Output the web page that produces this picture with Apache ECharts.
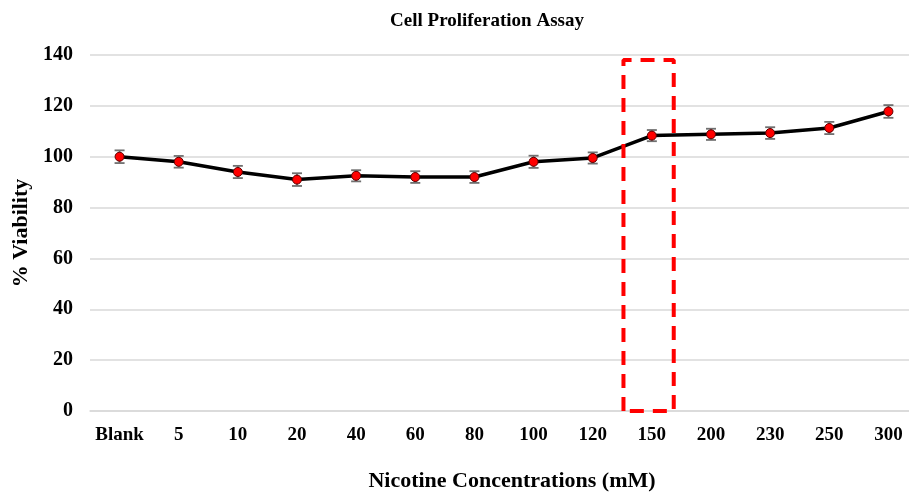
<!DOCTYPE html>
<html>
<head>
<meta charset="utf-8">
<script src="https://cdn.jsdelivr.net/npm/echarts@6/dist/echarts.min.js"></script>
<style>html,body{margin:0;padding:0;background:#fff;}#c{width:909px;height:496px;}</style>
</head>
<body>
<div id="c"></div>
<script>
const categories = ['Blank','5','10','20','40','60','80','100','120','150','200','230','250','300'];
const viability = [100, 98, 94, 91, 92.5, 92, 92, 98, 99.5, 108.3, 108.8, 109.3, 111.3, 117.8];
const errors = [2.5, 2.3, 2.4, 2.5, 2.2, 2.3, 2.3, 2.4, 2.2, 2.2, 2.2, 2.3, 2.4, 2.5];
const yTicks = [0, 20, 40, 60, 80, 100, 120, 140];
// highlight box (category-index x range, value y range)
const boxX = [8.52, 9.37];
const boxY = [0, 138];

const FONT = '"Liberation Serif", "Times New Roman", serif';
const chart = echarts.init(document.getElementById('c'));

const boxData = [[boxX[0], boxY[0]], [boxX[0], boxY[1]], [boxX[1], boxY[1]], [boxX[1], boxY[0]], [boxX[0], boxY[0]]];

chart.setOption({
  animation: false,
  backgroundColor: '#fff',
  title: {
    text: 'Cell Proliferation Assay',
    left: 482, top: 7, textAlign: 'center',
    textStyle: { fontFamily: FONT, fontWeight: 'bold', fontSize: 19, color: '#000' }
  },
  grid: { left: 90, right: -9, top: 55, bottom: 85, containLabel: false, outerBoundsMode: 'none' },
  xAxis: [{
    type: 'category',
    data: categories,
    boundaryGap: true,
    axisLine: { show: true, lineStyle: { color: '#d9d9d9', width: 1.5 } },
    axisTick: { show: false },
    axisLabel: { fontFamily: FONT, fontWeight: 'bold', fontSize: 19, color: '#000', margin: 15, interval: 0 },
    name: 'Nicotine Concentrations (mM)',
    nameLocation: 'middle',
    nameGap: 59,
    nameTextStyle: { fontFamily: FONT, fontWeight: 'bold', fontSize: 22, color: '#000', padding: [0, 0, 0, 16] }
  }, {
    type: 'value', min: -0.5, max: 13.5, show: false
  }],
  yAxis: [{
    type: 'value', min: 0, max: 140, interval: 20,
    axisLine: { show: false },
    axisTick: { show: false },
    splitLine: { lineStyle: { color: '#d9d9d9', width: 1.5 } },
    axisLabel: { fontFamily: FONT, fontWeight: 'bold', fontSize: 20, color: '#000', margin: 17,
      formatter: v => yTicks.includes(v) ? String(v) : '' },
    name: '% Viability',
    nameLocation: 'middle',
    nameGap: 56,
    nameTextStyle: { fontFamily: FONT, fontWeight: 'bold', fontSize: 22, color: '#000' }
  }],
  series: [{
    type: 'custom',
    xAxisIndex: 0, yAxisIndex: 0,
    z: 2,
    data: viability.map((v, i) => [i, v, errors[i]]),
    renderItem: function (params, api) {
      const x = api.value(0), y = api.value(1), e = api.value(2);
      const top = api.coord([x, y + e]);
      const bot = api.coord([x, y - e]);
      const hw = 5;
      const st = { stroke: '#707070', lineWidth: 1.8 };
      return { type: 'group', children: [
        { type: 'line', shape: { x1: top[0], y1: top[1], x2: bot[0], y2: bot[1] }, style: st },
        { type: 'line', shape: { x1: top[0] - hw, y1: top[1], x2: top[0] + hw, y2: top[1] }, style: st },
        { type: 'line', shape: { x1: bot[0] - hw, y1: bot[1], x2: bot[0] + hw, y2: bot[1] }, style: st }
      ]};
    }
  }, {
    type: 'line',
    xAxisIndex: 0, yAxisIndex: 0,
    data: viability,
    z: 3,
    lineStyle: { color: '#000', width: 3.5 },
    symbol: 'circle', symbolSize: 9,
    itemStyle: { color: '#ff0000', borderColor: '#5a0000', borderWidth: 1 }
  }, {
    type: 'line',
    xAxisIndex: 1, yAxisIndex: 0,
    data: boxData,
    z: 4,
    symbol: 'none',
    clip: false,
    lineStyle: { color: '#ff0000', width: 4, type: [14, 9] }
  }]
});
</script>
</body>
</html>
